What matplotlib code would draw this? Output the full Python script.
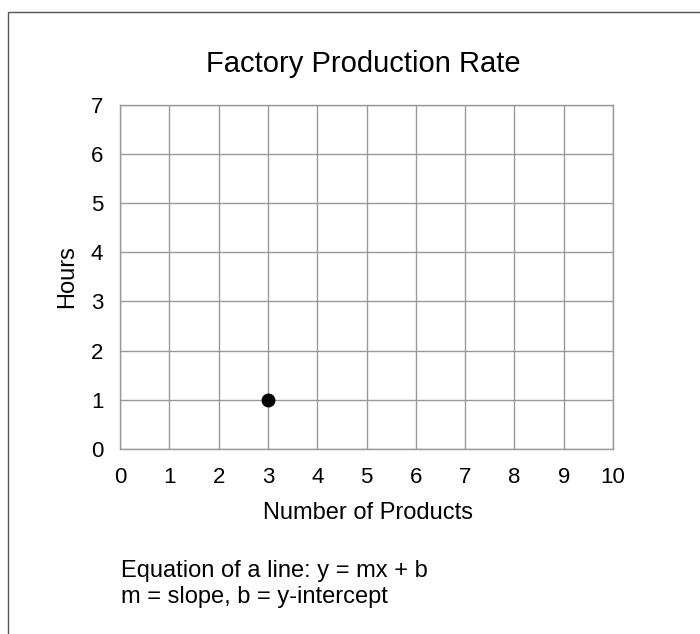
import matplotlib
matplotlib.use("Agg")
import matplotlib.pyplot as plt
from matplotlib.patches import Rectangle

plt.rcParams['font.family'] = ['Liberation Sans', 'DejaVu Sans']

title = "Factory Production Rate"
x_label = "Number of Products"
y_label = "Hours"
x_ticks = [0, 1, 2, 3, 4, 5, 6, 7, 8, 9, 10]
y_ticks = [0, 1, 2, 3, 4, 5, 6, 7]
point_x = [3]
point_y = [1]
notes = ["Equation of a line: y = mx + b", "m = slope, b = y-intercept"]

W, H = 700, 634
fig = plt.figure(figsize=(W / 100, H / 100), dpi=100)

# outer border (cropped on right and bottom)
fig.patches.append(Rectangle((8 / W, -0.1), 1.2, 1 - 11.5 / H + 0.1,
                             transform=fig.transFigure, fill=False,
                             edgecolor='#555555', linewidth=1.0))

ax = fig.add_axes([120 / W, 1 - 449 / H, (613 - 120) / W, (449 - 104.5) / H])
ax.set_xlim(x_ticks[0], x_ticks[-1])
ax.set_ylim(y_ticks[0], y_ticks[-1])
ax.set_xticks(x_ticks)
ax.set_yticks(y_ticks)
ax.tick_params(length=0, labelsize=16)
ax.tick_params(axis='x', pad=13)
ax.tick_params(axis='y', pad=12)
ax.grid(True, color='#999999', linewidth=1)
for s in ax.spines.values():
    s.set_color('#999999')
    s.set_linewidth(1)
ax.set_axisbelow(True)

ax.plot(point_x, point_y, 'o', color='black', markersize=9, zorder=5, clip_on=False)

fig.text(363 / W, 1 - 72 / H, title, ha='center', va='baseline', fontsize=21)
fig.text(368 / W, 1 - 519 / H, x_label, ha='center', va='baseline', fontsize=17)
fig.text(73 / W, 1 - 276.5 / H, y_label, ha='center', va='baseline', rotation=90,
         rotation_mode='anchor', fontsize=17)
fig.text(121 / W, 1 - 577 / H, notes[0], ha='left', va='baseline', fontsize=17)
fig.text(121 / W, 1 - 603 / H, notes[1], ha='left', va='baseline', fontsize=17)

fig.savefig("out.png", dpi=100)
